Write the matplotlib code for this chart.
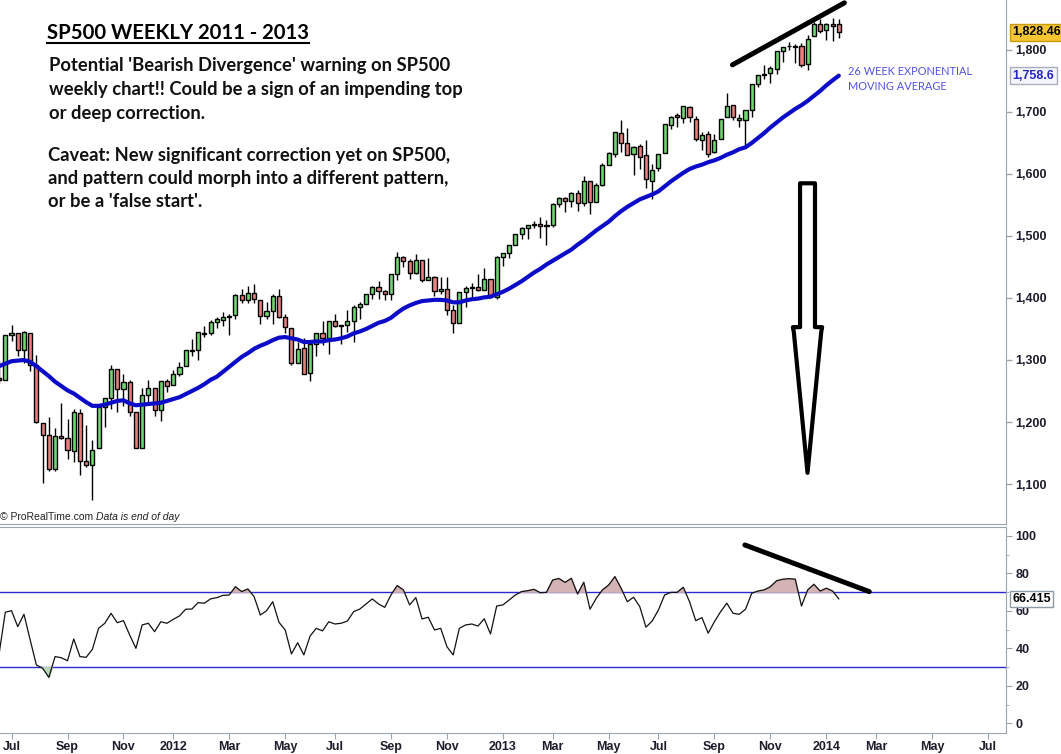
import numpy as np
import pandas as pd
import matplotlib
matplotlib.use("Agg")
import matplotlib.pyplot as plt
from matplotlib.patches import Polygon
from matplotlib.lines import Line2D
from matplotlib.ticker import FixedLocator, FuncFormatter
import matplotlib.transforms as mtransforms

# ---- data (weekly bars, week starting 2011-06-20) ----
first_week = "2011-06-20"

opens = [
    1271.5, 1268.4, 1339.6, 1343.3, 1315.9, 1344.3, 1292.6, 1198.5, 1178.9, 1123.6,
    1177.0, 1173.97, 1153.5, 1215.0, 1136.9, 1131.2, 1158.2, 1224.5, 1238.7, 1285.0,
    1253.2, 1263.9, 1215.6, 1158.7, 1244.3, 1255.1, 1219.7, 1265.4, 1258.9, 1277.8,
    1290.2, 1315.3, 1316.2, 1344.3, 1343.0, 1361.2, 1365.2, 1369.6, 1371.9, 1404.2,
    1397.1, 1408.5, 1397.5, 1370.3, 1378.5, 1403.3, 1368.8, 1351.9, 1295.7, 1318.9,
    1278.3, 1325.7, 1343.0, 1334.9, 1362.3, 1354.7, 1356.5, 1362.3, 1385.9, 1391.0,
    1405.9, 1418.1, 1411.1, 1406.5, 1437.9, 1465.4, 1460.1, 1440.9, 1460.9, 1428.8,
    1433.2, 1411.0, 1414.0, 1380.1, 1359.9, 1409.0, 1416.3, 1418.1, 1413.5, 1430.2,
    1402.4, 1466.5, 1472.1, 1486.0, 1503.0, 1513.2, 1517.9, 1519.8, 1515.6, 1518.2,
    1551.2, 1560.7, 1556.9, 1569.2, 1553.3, 1588.8, 1555.3, 1582.3, 1614.4, 1632.1,
    1665.7, 1650.0, 1631.7, 1644.7, 1630.6, 1588.8, 1609.8, 1634.2, 1679.6, 1694.4,
    1690.3, 1708.0, 1688.4, 1655.3, 1664.3, 1635.9, 1656.9, 1691.7, 1711.4, 1687.3,
    1687.2, 1702.5, 1745.2, 1759.4, 1763.4, 1770.0, 1798.8, 1806.3, 1806.6, 1806.2,
    1777.0, 1822.9, 1841.5, 1832.3, 1841.3, 1841.1]

highs = [
    1298.6, 1341.0, 1356.5, 1343.3, 1347.0, 1344.3, 1307.4, 1198.5, 1208.5, 1190.7,
    1230.7, 1204.4, 1220.4, 1220.4, 1195.9, 1171.4, 1224.6, 1239.0, 1292.7, 1285.0,
    1277.6, 1267.0, 1215.6, 1255.2, 1267.1, 1255.1, 1265.4, 1269.4, 1284.6, 1296.8,
    1315.5, 1333.5, 1345.3, 1354.3, 1364.2, 1368.9, 1378.0, 1374.8, 1405.9, 1414.0,
    1419.2, 1422.4, 1397.5, 1392.8, 1406.6, 1415.3, 1373.9, 1351.9, 1328.5, 1334.9,
    1329.1, 1343.3, 1363.5, 1362.2, 1374.8, 1357.0, 1380.4, 1389.2, 1394.2, 1407.1,
    1420.0, 1426.7, 1413.5, 1437.9, 1474.5, 1467.1, 1463.5, 1470.9, 1460.9, 1464.0,
    1435.5, 1434.3, 1433.4, 1388.8, 1409.2, 1419.7, 1423.7, 1439.0, 1448.0, 1430.7,
    1467.9, 1473.0, 1486.0, 1503.3, 1514.4, 1518.3, 1524.7, 1530.9, 1525.8, 1552.5,
    1563.6, 1563.6, 1570.3, 1573.7, 1597.4, 1588.8, 1585.6, 1618.5, 1635.0, 1667.5,
    1687.2, 1674.2, 1644.4, 1648.7, 1654.2, 1615.9, 1632.1, 1680.2, 1693.1, 1698.0,
    1709.7, 1709.2, 1693.0, 1668.0, 1669.5, 1664.8, 1689.0, 1729.9, 1711.4, 1696.5,
    1703.4, 1745.3, 1759.8, 1775.2, 1774.5, 1798.2, 1804.8, 1813.6, 1810.0, 1811.5,
    1823.8, 1844.9, 1849.4, 1843.2, 1850.8, 1849.3]

lows = [
    1262.9, 1267.5, 1330.9, 1307.0, 1295.9, 1282.9, 1199.0, 1101.5, 1121.1, 1121.1,
    1172.9, 1140.1, 1136.2, 1114.2, 1127.0, 1074.8, 1158.2, 1191.5, 1221.1, 1215.4,
    1226.6, 1209.4, 1158.7, 1158.7, 1231.5, 1209.5, 1202.4, 1248.6, 1258.9, 1274.7,
    1290.2, 1306.2, 1300.5, 1337.5, 1340.8, 1352.3, 1354.9, 1340.0, 1366.7, 1391.6,
    1391.9, 1392.6, 1357.4, 1365.4, 1358.8, 1367.9, 1343.1, 1292.0, 1295.7, 1277.8,
    1266.7, 1306.6, 1324.4, 1309.3, 1353.3, 1325.4, 1345.1, 1329.2, 1365.6, 1391.0,
    1397.8, 1398.0, 1397.0, 1396.6, 1429.1, 1449.6, 1430.5, 1439.0, 1426.1, 1428.8,
    1403.3, 1405.9, 1373.0, 1343.4, 1359.9, 1385.4, 1398.2, 1411.9, 1413.5, 1401.6,
    1398.1, 1451.6, 1463.8, 1485.0, 1495.3, 1495.0, 1513.6, 1497.3, 1485.0, 1514.5,
    1547.4, 1538.6, 1546.2, 1539.5, 1548.9, 1536.0, 1555.3, 1581.3, 1614.4, 1626.7,
    1635.5, 1630.7, 1598.2, 1608.1, 1577.7, 1560.3, 1604.6, 1634.2, 1672.1, 1676.0,
    1681.9, 1683.4, 1652.6, 1639.2, 1627.5, 1633.4, 1656.9, 1691.7, 1687.1, 1675.0,
    1646.5, 1692.1, 1740.5, 1752.7, 1746.2, 1760.6, 1780.6, 1800.6, 1779.1, 1772.3,
    1768.0, 1822.9, 1827.7, 1815.5, 1815.0, 1820.0]

closes = [
    1268.45, 1339.67, 1343.80, 1316.14, 1345.02, 1292.28, 1199.38, 1178.81, 1123.53, 1176.80,
    1173.97, 1154.23, 1216.01, 1136.43, 1131.42, 1155.46, 1224.58, 1238.25, 1285.09, 1253.23,
    1263.85, 1215.65, 1158.67, 1244.28, 1255.19, 1219.66, 1265.33, 1257.60, 1277.81, 1289.09,
    1315.38, 1316.33, 1344.90, 1342.64, 1361.23, 1365.74, 1369.63, 1370.87, 1404.17, 1397.11,
    1408.47, 1398.08, 1370.26, 1378.53, 1403.36, 1369.10, 1353.39, 1295.22, 1317.82, 1278.04,
    1325.66, 1342.84, 1335.02, 1362.16, 1354.68, 1356.78, 1362.66, 1385.97, 1390.99, 1405.87,
    1418.16, 1411.13, 1406.58, 1437.92, 1465.77, 1460.15, 1440.67, 1460.93, 1428.59, 1433.19,
    1411.94, 1414.20, 1379.85, 1359.88, 1409.15, 1416.18, 1418.07, 1413.58, 1430.15, 1402.43,
    1466.47, 1472.05, 1485.98, 1502.96, 1513.17, 1517.93, 1519.79, 1515.60, 1518.20, 1551.18,
    1560.70, 1556.89, 1569.19, 1553.28, 1588.85, 1555.25, 1582.24, 1614.42, 1633.70, 1667.47,
    1649.60, 1630.74, 1643.38, 1626.73, 1592.43, 1606.28, 1631.89, 1680.19, 1692.09, 1691.65,
    1709.67, 1691.42, 1655.83, 1663.50, 1632.97, 1655.17, 1687.99, 1709.91, 1691.75, 1690.50,
    1703.20, 1744.50, 1759.77, 1761.64, 1770.61, 1798.18, 1804.76, 1805.81, 1805.09, 1775.32,
    1818.32, 1841.40, 1831.37, 1842.37, 1838.70, 1828.46]

# 26 week exponential moving average
ema26 = [
    1290, 1294, 1298, 1299, 1300, 1297, 1290, 1282, 1274, 1265,
    1258, 1251, 1246, 1239, 1232, 1226, 1226, 1228, 1231, 1234,
    1235, 1230, 1227, 1228, 1229, 1230, 1231, 1234, 1237, 1240,
    1245, 1250, 1255, 1261, 1268, 1273, 1281, 1289, 1297, 1305,
    1311, 1318, 1323, 1327, 1332, 1336, 1337, 1335, 1333, 1329,
    1329, 1330, 1330, 1332, 1333, 1335, 1338, 1343, 1346, 1350,
    1355, 1360, 1363, 1368, 1376, 1383, 1388, 1392, 1395, 1396,
    1397, 1397, 1396, 1393, 1393, 1396, 1398, 1399, 1401, 1402,
    1406, 1410, 1415, 1421, 1427, 1434, 1441, 1447, 1454, 1460,
    1466, 1472, 1478, 1486, 1493, 1501, 1509, 1516, 1523, 1532,
    1540, 1547, 1553, 1559, 1563, 1567, 1572, 1580, 1588, 1595,
    1602, 1608, 1612, 1615, 1619, 1622, 1626, 1631, 1635, 1640,
    1643, 1650, 1658, 1666, 1675, 1683, 1691, 1698, 1705, 1711,
    1718, 1726, 1734, 1743, 1751, 1758.6]

# weekly RSI
rsi = [
    37.0, 59.3, 60.1, 51.6, 58.2, 44.5, 31.1, 29.4, 24.5, 35.6,
    35.0, 33.4, 45.0, 35.6, 35.2, 39.5, 50.7, 53.4, 58.7, 53.7,
    54.8, 47.1, 40.0, 52.5, 53.4, 48.9, 54.2, 53.4, 55.5, 57.3,
    60.9, 61.0, 64.4, 64.1, 66.4, 67.1, 68.3, 68.5, 72.9, 70.3,
    71.7, 67.6, 57.8, 60.1, 64.9, 53.9, 49.8, 37.0, 43.0, 36.5,
    46.6, 50.7, 49.3, 54.2, 53.0, 53.4, 54.6, 59.6, 61.0, 63.7,
    66.4, 63.7, 61.9, 68.5, 73.5, 71.2, 63.2, 67.1, 55.7, 56.6,
    49.8, 50.7, 40.9, 36.5, 50.7, 52.5, 53.0, 51.9, 55.8, 47.7,
    62.6, 63.2, 65.8, 68.5, 70.3, 70.8, 71.5, 69.7, 69.9, 76.5,
    77.3, 75.2, 77.4, 69.0, 75.3, 60.9, 66.7, 71.2, 73.8, 78.3,
    72.1, 64.9, 67.3, 62.3, 51.3, 54.6, 60.5, 68.5, 69.9, 69.9,
    72.6, 64.9, 54.8, 56.4, 48.1, 54.2, 59.6, 64.1, 58.7, 58.2,
    60.9, 69.4, 70.6, 71.2, 72.9, 76.1, 76.9, 77.2, 76.9, 62.6,
    71.2, 74.2, 70.6, 72.1, 70.6, 66.415]

rsi_levels = [70, 30]

# hand drawn annotations (in week index / price units)
price_trend = [(117.9, 1776), (135.9, 1876)]
rsi_trend = [(119.9, 95.2), (139.9, 70.3)]
arrow = dict(x=129.97, top=1585, neck=1353, tip=1118, shaft=1.2, head=2.35)

title = "SP500 WEEKLY 2011 - 2013"
para1 = ["Potential 'Bearish Divergence' warning on SP500",
         "weekly chart!! Could be a sign of an impending top",
         "or deep correction."]
para2 = ["Caveat: New significant correction yet on SP500,",
         "and pattern could morph into a different pattern,",
         "or be a 'false start'."]

# ---- figure ----
W, H = 1061, 754
fig = plt.figure(figsize=(W / 100, H / 100), dpi=100)
ax = fig.add_axes([0, (H - 524) / H, 1006 / W, 524 / H])
ax2 = fig.add_axes([0, (H - 733) / H, 1006 / W, 206 / H])

o = np.array(opens)
h = np.array(highs)
l = np.array(lows)
c = np.array(closes)
x = np.arange(len(c))

green = "#6fd96f"
red = "#e9807f"
grey = "#9aa4ad"
lab_col = "#1c1c2c"
cols = np.where(c >= o, green, red)

ax.vlines(x, l, h, color="black", lw=1.0, zorder=2)
ax.bar(x, np.abs(c - o), bottom=np.minimum(o, c), width=0.66,
       color=cols, edgecolor="black", linewidth=1.0, zorder=3)
ax.plot(x, ema26, color="#0c0cc8", lw=3.0, zorder=4, solid_capstyle="round")

ax.plot(*zip(*price_trend), color="black", lw=3.6, solid_capstyle="round", zorder=5)

a = arrow
arrow_pts = [(a["x"] - a["shaft"], a["top"]), (a["x"] + a["shaft"], a["top"]),
             (a["x"] + a["shaft"], a["neck"]), (a["x"] + a["head"], a["neck"]),
             (a["x"] + a["head"] - 0.15, a["neck"] - 8), (a["x"], a["tip"]),
             (a["x"] - a["head"] + 0.15, a["neck"] - 8), (a["x"] - a["head"], a["neck"]),
             (a["x"] - a["shaft"], a["neck"])]
ax.add_patch(Polygon(arrow_pts, closed=True, fill=False, edgecolor="black",
                     lw=3.0, joinstyle="round", zorder=5))

xmin, xmax = 0.148, 161.88
ax.set_xlim(xmin, xmax)
ax.set_ylim(1035.5, 1880.6)
ax.yaxis.tick_right()
ax.set_yticks(np.arange(1100, 1801, 100))
ax.yaxis.set_major_formatter(FuncFormatter(lambda v, p: f"{v:,.0f}"))
ax.tick_params(axis="y", direction="out", length=4, width=1, color=grey,
               labelsize=9, labelcolor=lab_col, pad=3)
ax.tick_params(axis="x", bottom=False, labelbottom=False)
for lbl in ax.get_yticklabels():
    lbl.set_fontweight("bold")
    lbl.set_family("Liberation Sans")
for s in ["top", "left"]:
    ax.spines[s].set_visible(False)
for s in ["right", "bottom"]:
    ax.spines[s].set_color(grey)

# value boxes on the price scale
yt = mtransforms.blended_transform_factory(ax.transAxes, ax.transData)
ax.text(1.0065, closes[-1], f"{closes[-1]:,.2f}", transform=yt, ha="left", va="center",
        fontsize=9, fontweight="bold", family="Liberation Sans", color="black", zorder=10,
        clip_on=False,
        bbox=dict(boxstyle="square,pad=0.18", fc="#f6c531", ec="#c89a10", lw=1))
ax.text(1.0065, ema26[-1], f"{ema26[-1]:,.1f}", transform=yt, ha="left", va="center",
        fontsize=9, fontweight="bold", family="Liberation Sans", color="#2525c8", zorder=10,
        clip_on=False,
        bbox=dict(boxstyle="square,pad=0.18", fc="#f4f4fb", ec="#a8aebb", lw=1))

ax.text(0.0, 0.003, "\u00a9 ProRealTime.com", transform=ax.transAxes, ha="left",
        va="bottom", fontsize=7.5, family="Liberation Sans", color="#222222")
ax.text(95.5 / 1006, 0.003, "Data is end of day", transform=ax.transAxes, ha="left",
        va="bottom", fontsize=7.5, family="Liberation Sans", style="italic", color="#222222")

# ---- RSI panel ----
r = np.array(rsi)
ax2.plot(x, r, color="#111111", lw=0.9, zorder=4)
ax2.fill_between(x, r, 70, where=r > 70, interpolate=True, color="#d3b3b3", zorder=3)
ax2.fill_between(x, r, 30, where=r < 30, interpolate=True, color="#b9d7b9", zorder=3)
for lev in rsi_levels:
    ax2.axhline(lev, color="#2a2ad2", lw=1.0, zorder=2)
ax2.plot(*zip(*rsi_trend), color="black", lw=3.6, solid_capstyle="round", zorder=5)

ax2.set_xlim(xmin, xmax)
ax2.set_ylim(-5.2, 104.8)
ax2.yaxis.tick_right()
ax2.yaxis.set_major_locator(FixedLocator([0, 20, 40, 60, 80, 100]))
ax2.yaxis.set_minor_locator(FixedLocator([10, 30, 50, 70, 90]))
ax2.tick_params(axis="y", which="major", direction="out", length=4, color=grey,
                labelsize=9, labelcolor=lab_col, pad=3)
ax2.tick_params(axis="y", which="minor", direction="out", length=2.5, color=grey)

weeks = pd.date_range(first_week, periods=170, freq="W-MON")
tick_pos, tick_lab = [], []
prev = None
for i, d in enumerate(weeks):
    key = (d.year, d.month)
    if key != prev and d.month % 2 == 1 and xmin < i < xmax:
        tick_pos.append(i)
        tick_lab.append(str(d.year) if d.month == 1 else d.strftime("%b"))
    prev = key
ax2.set_xticks(tick_pos)
ax2.set_xticklabels(tick_lab)
ax2.tick_params(axis="x", direction="out", length=4, color=grey, labelsize=9,
                labelcolor=lab_col, pad=2)
for lbl in ax2.get_xticklabels() + ax2.get_yticklabels():
    lbl.set_fontweight("bold")
    lbl.set_family("Liberation Sans")
ax2.spines["left"].set_visible(False)
for s in ["top", "right", "bottom"]:
    ax2.spines[s].set_color(grey)

yt2 = mtransforms.blended_transform_factory(ax2.transAxes, ax2.transData)
ax2.text(1.0065, rsi[-1], f"{rsi[-1]:.3f}", transform=yt2, ha="left", va="center",
         fontsize=9, fontweight="bold", family="Liberation Sans", color="black", zorder=10,
         clip_on=False,
         bbox=dict(boxstyle="square,pad=0.18", fc="white", ec="#8e9aa6", lw=1))

# ---- annotation text ----
def fx(px):
    return px / W


def fy(py):
    return 1 - py / H


t = fig.text(fx(47), fy(39.3), title, fontsize=14.6, fontweight="bold",
             family="Lato", va="baseline", color="black")
for k, line in enumerate(para1):
    fig.text(fx(49), fy(70.7 + 24.2 * k), line, fontsize=13.2, fontweight="bold",
             family="Lato", va="baseline", color="#111111")
for k, line in enumerate(para2):
    fig.text(fx(48), fy(160.7 + 23.3 * k), line, fontsize=13.2, fontweight="bold",
             family="Lato", va="baseline", color="#111111")

ma_col = "#5252e0"
fig.text(fx(847.5), fy(75), "26 WEEK EXPONENTIAL", fontsize=7.9, family="Lato",
         va="baseline", color=ma_col)
fig.text(fx(847.5), fy(90), "MOVING AVERAGE", fontsize=7.9, family="Lato",
         va="baseline", color=ma_col)

fig.canvas.draw()
bb = t.get_window_extent()
fig.add_artist(Line2D([bb.x0 / W, bb.x1 / W], [fy(42.5), fy(42.5)],
                      color="black", lw=1.5, transform=fig.transFigure))

fig.savefig("out.png", dpi=100, facecolor="white")
